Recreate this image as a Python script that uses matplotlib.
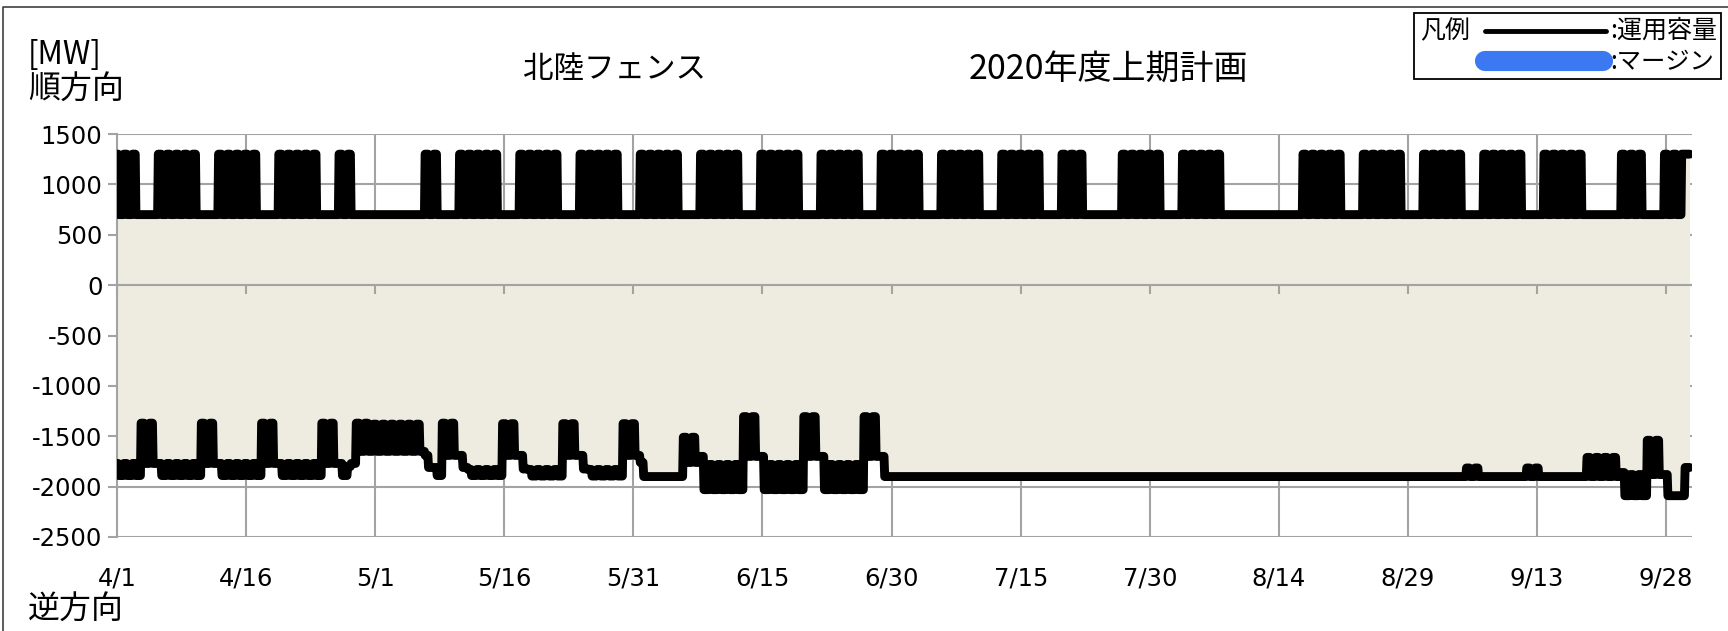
import numpy as np
import matplotlib
matplotlib.use("Agg")
import matplotlib.pyplot as plt
from matplotlib.lines import Line2D
from matplotlib.patches import Rectangle

plt.rcParams['font.family'] = ['Noto Sans CJK JP', 'DejaVu Sans']

# ---------------- data ----------------
# x axis: days from 4/1 (2020), labels every 15 days
XTICK_LABELS = ["4/1", "4/16", "5/1", "5/16", "5/31", "6/15", "6/30",
                "7/15", "7/30", "8/14", "8/29", "9/13", "9/28"]
YTICKS = [1500, 1000, 500, 0, -500, -1000, -1500, -2000, -2500]

# 順方向 運用容量: runs of (number of days, daytime value, night value)
UP_RUNS = [
    (3, 1300, 700), (2, 700, 700), (5, 1300, 700), (2, 700, 700),
    (5, 1300, 700), (2, 700, 700), (5, 1300, 700), (2, 700, 700),
    (2, 1300, 700), (8, 700, 700),                                   # 4/27-5/6
    (2, 1300, 700), (2, 700, 700), (5, 1300, 700), (2, 700, 700),
    (5, 1300, 700), (2, 700, 700), (5, 1300, 700), (2, 700, 700),
    (5, 1300, 700), (2, 700, 700),                                   # to 6/7
    (5, 1300, 700), (2, 700, 700), (5, 1300, 700), (2, 700, 700),
    (5, 1300, 700), (2, 700, 700), (5, 1300, 700), (2, 700, 700),
    (5, 1300, 700), (2, 700, 700),                                   # to 7/12
    (5, 1300, 700), (2, 700, 700), (3, 1300, 700), (4, 700, 700),
    (5, 1300, 700), (2, 700, 700), (5, 1300, 700), (9, 700, 700),    # to 8/16
    (5, 1300, 700), (2, 700, 700), (5, 1300, 700), (2, 700, 700),
    (5, 1300, 700), (2, 700, 700), (5, 1300, 700), (2, 700, 700),
    (5, 1300, 700), (4, 700, 700), (3, 1300, 700), (2, 700, 700),
    (2, 1300, 700), (1, 1300, 1300),                                 # to 9/30
]

# 逆方向 運用容量: runs of (number of days, daytime value, night value)
LOW_RUNS = [
    (3, -1770, -1890), (2, -1370, -1770), (5, -1770, -1890), (2, -1370, -1770),
    (5, -1770, -1890), (2, -1370, -1770), (5, -1770, -1890), (2, -1370, -1770),
    (1, -1770, -1890), (1, -1800, -1770),
    (2, -1370, -1650), (6, -1380, -1650),
    (1, -1690, -1810), (1, -1810, -1890), (2, -1370, -1690),
    (1, -1690, -1810), (4, -1830, -1890), (2, -1375, -1690),
    (1, -1690, -1825), (4, -1830, -1895), (2, -1375, -1690),
    (1, -1690, -1825), (4, -1830, -1895), (2, -1375, -1690),
    (1, -1760, -1900), (4, -1900, -1900), (2, -1510, -1760),
    (1, -1700, -2030), (4, -1780, -2030), (2, -1305, -1700),
    (1, -1700, -2030), (4, -1780, -2030), (2, -1305, -1700),
    (1, -1700, -2030), (4, -1780, -2030), (2, -1305, -1700),
    (1, -1700, -1900), (67, -1900, -1900),
    (2, -1815, -1900), (5, -1900, -1900), (2, -1815, -1900), (5, -1900, -1900),
    (4, -1710, -1900), (1, -1860, -2090), (2, -1880, -2090),
    (2, -1540, -1880), (1, -1880, -2090), (1, -2090, -2090), (1, -2090, -1810),
]


def build(runs):
    xs, ys = [], []
    d = 0
    for n, dv, nv in runs:
        for _ in range(n):
            xs += [d - 0.2, d + 0.12, d + 0.2, d + 0.72]
            ys += [dv, dv, nv, nv]
            d += 1
    return np.array(xs), np.array(ys)


x_up, y_up = build(UP_RUNS)
x_lo, y_lo = build(LOW_RUNS)
n_days = sum(r[0] for r in UP_RUNS)

# ---------------- figure ----------------
W, H = 1728, 631
fig = plt.figure(figsize=(W / 100, H / 100), dpi=100)


def fx(px):
    return px / W


def fy(py):
    return 1 - py / H


L, R, T, B = 117, 1692, 134, 537
ax = fig.add_axes([fx(L), fy(B), (R - L) / W, (B - T) / H])

GRID = '#a3a3a3'
BEIGE = '#eeebe0'

ax.set_xlim(0, n_days)
ax.set_ylim(-2500, 1500)
xt = [i * 15 for i in range(len(XTICK_LABELS))]
ax.set_xticks(xt)
ax.set_xticklabels(XTICK_LABELS, fontsize=17.5, family='DejaVu Sans')
ax.set_yticks(YTICKS)
ax.set_yticklabels([str(v) for v in YTICKS], fontsize=17.5, family='DejaVu Sans')
ax.tick_params(axis='x', length=0, pad=21)
ax.tick_params(axis='y', length=6.5, width=1.5, color=GRID, pad=4)

ax.set_axisbelow(True)
ax.grid(True, color=GRID, linewidth=1.5)
for s in ['top', 'right', 'bottom']:
    ax.spines[s].set_visible(False)
ax.spines['left'].set_color(GRID)
ax.spines['left'].set_linewidth(1.5)
ax.spines['left'].set_zorder(2.5)

ax.fill_between(x_up, y_up, y_lo, color=BEIGE, linewidth=0, zorder=1)

# category axis at 0 with its tick marks
ax.axhline(0, color=GRID, linewidth=1.5, zorder=2)
ax.vlines(xt, -90, 0, color=GRID, linewidth=1.5, zorder=2)

lw = 6.4
ax.plot(x_up, y_up, color='black', linewidth=lw, solid_joinstyle='round',
        solid_capstyle='round', zorder=3)
ax.plot(x_lo, y_lo, color='black', linewidth=lw, solid_joinstyle='round',
        solid_capstyle='round', zorder=3)

# ---------------- texts ----------------
fig.text(fx(614), fy(69), "北陸フェンス", fontsize=22, ha='center', va='center')
fig.text(fx(1108), fy(69), "2020年度上期計画", fontsize=24.5, ha='center', va='center')
fig.text(fx(28), fy(55), "[MW]", fontsize=22.5, ha='left', va='center')
fig.text(fx(28), fy(89), "順方向", fontsize=23, ha='left', va='center')
fig.text(fx(28), fy(609), "逆方向", fontsize=23, ha='left', va='center')

# outer frame (left and top edges)
fig.add_artist(Line2D([fx(3), fx(3), fx(W)], [fy(H), fy(7), fy(7)],
                      color='#404040', linewidth=1.2))

# legend box
fig.add_artist(Rectangle((fx(1414), fy(79)), (1721 - 1414) / W, (79 - 13) / H,
                         facecolor='white', edgecolor='black', linewidth=1.3))
fig.text(fx(1420), fy(31), "凡例", fontsize=18, ha='left', va='center')
fig.add_artist(Line2D([fx(1485), fx(1606)], [fy(31), fy(31)], color='black',
                      linewidth=3.5, solid_capstyle='round'))
fig.text(fx(1610), fy(31), ":運用容量", fontsize=18, ha='left', va='center')
fig.add_artist(Line2D([fx(1485), fx(1603)], [fy(61), fy(61)], color='#3b78f2',
                      linewidth=14.5, solid_capstyle='round'))
fig.text(fx(1610), fy(62), ":マージン", fontsize=17.5, ha='left', va='center')

fig.savefig("out.png", dpi=100)
